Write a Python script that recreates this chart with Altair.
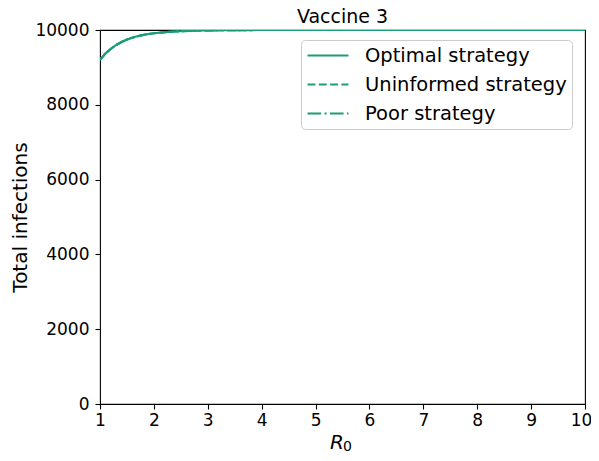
import altair as alt
import pandas as pd

# Data
r0 = [1.0, 1.1, 1.2, 1.3, 1.4, 1.5, 1.6, 1.7, 1.8, 1.9, 2.0, 2.25, 2.5, 2.75,
      3.0, 3.5, 4.0, 5.0, 6.0, 7.0, 8.0, 9.0, 10.0]
optimal = [9200, 9370, 9495, 9600, 9680, 9745, 9795, 9835, 9868, 9893, 9913,
           9948, 9968, 9981, 9989, 9996, 9999, 10000, 10000, 10000, 10000,
           10000, 10000]
uninformed = list(optimal)
poor = list(optimal)
series_names = ["Optimal strategy", "Uninformed strategy", "Poor strategy"]
x_ticks = [1, 2, 3, 4, 5, 6, 7, 8, 9, 10]
y_ticks = [0, 2000, 4000, 6000, 8000, 10000]
title_text = "Vaccine 3"

rows = []
for name, vals in zip(series_names, [optimal, uninformed, poor]):
    for x, y in zip(r0, vals):
        rows.append({"R0": x, "infections": y, "series": name})
df = pd.DataFrame(rows)

GREEN = "#1b9e77"
FONT = "DejaVu Sans"

lines = alt.Chart(df).mark_line(color=GREEN, strokeWidth=2.1, clip=True).encode(
    x=alt.X("R0:Q", scale=alt.Scale(domain=[1, 10], nice=False, zero=False),
            axis=alt.Axis(values=x_ticks, title=None, format="d", labelFlush=False,
                          labelOffset={"condition": {"test": "datum.value == 10", "value": -4},
                                       "value": 0})),
    y=alt.Y("infections:Q", scale=alt.Scale(domain=[0, 10000], nice=False),
            axis=alt.Axis(values=y_ticks, title="Total infections", format="d",
                          labelFlush=False)),
    strokeDash=alt.StrokeDash(
        "series:N",
        scale=alt.Scale(domain=series_names,
                        range=[[1, 0], [7.9, 3.4], [13.6, 3.4, 2.1, 3.4]]),
        sort=series_names,
        legend=alt.Legend(
            title=None, orient="none", legendX=201, legendY=10,
            symbolType="stroke", symbolSize=1681, symbolStrokeWidth=2.1,
            symbolStrokeColor=GREEN, labelFontSize=19.5, labelFont=FONT,
            labelColor="black", labelOffset=15, labelLimit=0,
            clipHeight=21, rowPadding=8,
            padding=5, strokeColor="#cccccc", fillColor="white",
            cornerRadius=4,
        ),
    ),
    order=alt.Order("series_order:Q"),
).transform_calculate(
    series_order="indexof(['Optimal strategy','Uninformed strategy','Poor strategy'], datum.series)"
)

ttl = alt.Chart(pd.DataFrame({"t": [title_text]})).mark_text(
    font=FONT, fontSize=19, align="center", baseline="alphabetic",
    color="black").encode(text="t:N", x=alt.value(242.5), y=alt.value(-7))

r_text = alt.Chart(pd.DataFrame({"t": ["R"]})).mark_text(
    font=FONT, fontSize=20, fontStyle="italic", align="left", baseline="alphabetic",
    color="black").encode(text="t:N", x=alt.value(230), y=alt.value(419))
sub_text = alt.Chart(pd.DataFrame({"t": ["0"]})).mark_text(
    font=FONT, fontSize=14, align="left", baseline="alphabetic",
    color="black").encode(text="t:N", x=alt.value(243), y=alt.value(421))

chart = alt.layer(lines, ttl, r_text, sub_text).properties(
    width=485, height=374,
    autosize=alt.AutoSizeParams(type="none"),
    padding={"left": 92, "top": 22, "right": 6, "bottom": 49},
).configure_view(
    stroke="black", strokeWidth=1.1
).configure_axis(
    grid=False, domain=False, ticks=True, tickColor="black", tickSize=5,
    tickWidth=1.1, labelFont=FONT, labelFontSize=17, labelColor="black",
    titleFont=FONT, titleFontSize=20, titleFontWeight="normal",
    titleColor="black",
).configure_axisX(labelPadding=3).configure_axisY(titlePadding=4, labelPadding=6)

chart.save("out.html", embed_options={"renderer": "svg", "actions": False})
